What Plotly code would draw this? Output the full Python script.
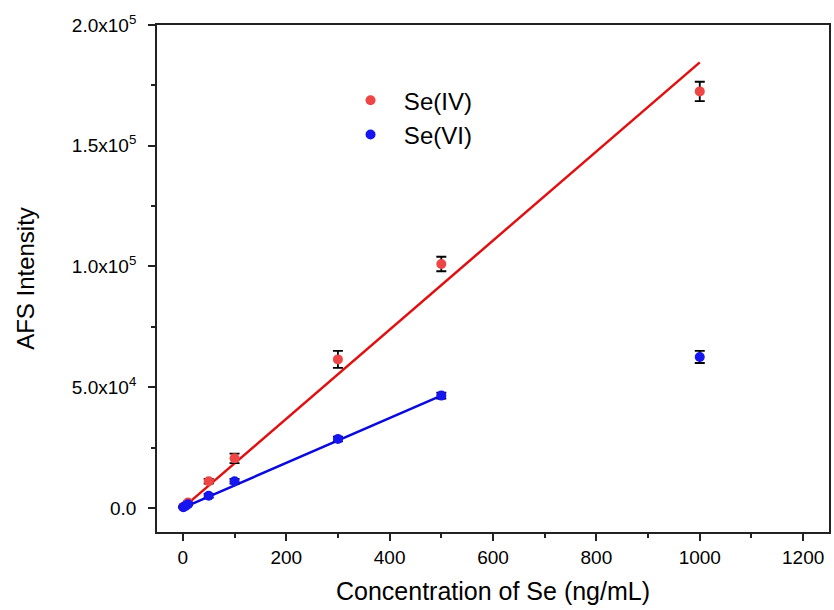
import plotly.graph_objects as go

conc = [1, 5, 10, 50, 100, 300, 500, 1000]
se4 = [400, 1000, 2200, 11000, 20500, 61500, 101000, 172500]
se4_err = [300, 400, 500, 1000, 2000, 3500, 3000, 4000]
se6 = [300, 800, 1500, 5000, 11000, 28500, 46500, 62500]
se6_err = [200, 300, 400, 800, 1000, 1000, 1200, 2500]

fit4_x = [0, 1000]
fit4_slope, fit4_int = 184.5, 0
fit6_x = [0, 500]
fit6_slope, fit6_int = 93.0, 0

y_ticks = [0, 50000, 100000, 150000, 200000]
y_ticktext = ["0.0", "5.0x10<sup>4</sup>", "1.0x10<sup>5</sup>", "1.5x10<sup>5</sup>", "2.0x10<sup>5</sup>"]
x_ticks = [0, 200, 400, 600, 800, 1000, 1200]

fig = go.Figure()
fig.add_trace(go.Scatter(x=fit4_x, y=[fit4_slope * v + fit4_int for v in fit4_x], mode="lines",
                         line=dict(color="#e01010", width=2.5), showlegend=False))
fig.add_trace(go.Scatter(x=fit6_x, y=[fit6_slope * v + fit6_int for v in fit6_x], mode="lines",
                         line=dict(color="#0a0adc", width=2.5), showlegend=False))
fig.add_trace(go.Scatter(x=conc, y=se4, mode="markers", name="\u00a0\u00a0Se(IV)",
                         marker=dict(color="#ee4545", size=10),
                         error_y=dict(type="data", array=se4_err, color="black", thickness=1.8, width=5)))
fig.add_trace(go.Scatter(x=conc, y=se6, mode="markers", name="\u00a0\u00a0Se(VI)",
                         marker=dict(color="#1515f0", size=10),
                         error_y=dict(type="data", array=se6_err, color="black", thickness=1.8, width=5)))

fig.update_layout(
    width=834, height=610,
    margin=dict(l=157, r=3, t=25, b=78),
    plot_bgcolor="white", paper_bgcolor="white",
    font=dict(family="Liberation Sans, Arial, sans-serif", color="black"),
    legend=dict(x=0.288, y=0.895, xanchor="left", yanchor="top", bgcolor="rgba(0,0,0,0)",
                font=dict(size=24), itemsizing="trace"),
)
fig.update_xaxes(
    range=[-50, 1250], tickvals=x_ticks,
    ticks="outside", ticklen=7, tickwidth=1.5, tickcolor="#222",
    minor=dict(tickvals=[100, 300, 500, 700, 900, 1100], ticks="outside", ticklen=4, tickwidth=1.5, tickcolor="#222"),
    showline=True, linecolor="#222", linewidth=1.8, mirror=True, showgrid=False, zeroline=False,
    tickfont=dict(size=19), title=dict(text="Concentration of Se (ng/mL)", font=dict(size=25), standoff=16),
)
fig.update_yaxes(
    range=[-10000, 200000], tickvals=y_ticks, ticktext=y_ticktext,
    ticks="outside", ticklen=7, tickwidth=1.5, tickcolor="#222", ticklabelstandoff=8,
    minor=dict(tickvals=[25000, 75000, 125000, 175000], ticks="outside", ticklen=4, tickwidth=1.5, tickcolor="#222"),
    showline=True, linecolor="#222", linewidth=1.8, mirror=True, showgrid=False, zeroline=False,
    tickfont=dict(size=19), title=dict(text="AFS Intensity", font=dict(size=24), standoff=30),
)
fig.write_html("out.html", post_script="document.body.style.margin='0';",
               config={"displayModeBar": False})
